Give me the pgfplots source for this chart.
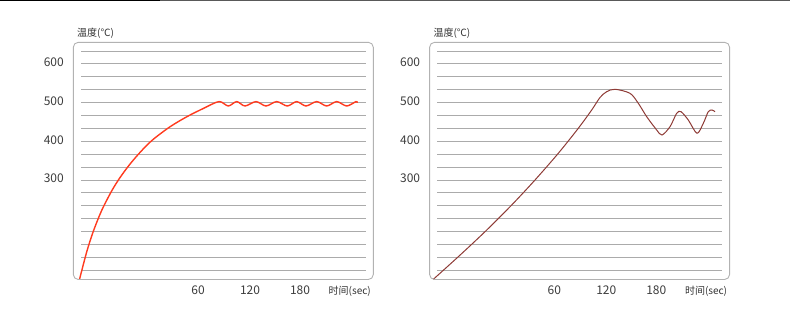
\documentclass[border=0pt]{standalone}
\usepackage{fontspec}
\setmainfont{Noto Sans CJK SC}
\usepackage{pgfplots}
\pgfplotsset{compat=1.18}
\definecolor{gridgray}{HTML}{ABABAB}
\definecolor{boxgray}{HTML}{B2B2B2}
\definecolor{redline}{HTML}{FF3B1F}
\definecolor{brownline}{HTML}{8E3B36}
\definecolor{txt}{HTML}{3C3C3C}
\definecolor{txtb}{HTML}{333333}
\pgfplotsset{panel/.style={
  scale only axis, width=285pt, height=237.2pt,
  anchor=south west,
  xmin=0, xmax=285, ymin=42.9, ymax=655.8,
  clip=false,
  axis line style={draw=none},
  major tick length=0pt, minor tick length=0pt,
  xtick={117,169,219}, xticklabels={60,120,180},
  ytick={300,400,500,600},
  minor ytick={66.667,100,133.333,166.667,200,233.333,266.667,333.333,366.667,433.333,466.667,533.333,566.667,633.333},
  ymajorgrids, yminorgrids,
  major grid style={gridgray, line width=0.9pt},
  minor grid style={gridgray, line width=0.9pt},
  /pgf/number format/assume math mode=true,
  yticklabel style={font=\fontsize{12}{14}\selectfont, text=txt, anchor=east, inner sep=0pt, xshift=-17pt, yshift=1.5pt},
  xticklabel style={font=\fontsize{12}{14}\selectfont, text=txt, anchor=center, inner sep=0pt, yshift=-10.5pt},
  after end axis/.code={
    \draw[boxgray, line width=0.9pt, rounded corners=5pt] ([xshift=-7.7pt]rel axis cs:0,0) rectangle ([xshift=7.3pt]rel axis cs:1,1);
    \node[anchor=west, font=\fontsize{10}{12}\selectfont, text=txtb, inner sep=0pt] at ([xshift=-4pt, yshift=9.3pt]rel axis cs:0,1) {温度(℃)};
    \node[anchor=east, font=\fontsize{10}{12}\selectfont, text=txtb, inner sep=0pt] at ([xshift=5pt, yshift=-11.5pt]rel axis cs:1,0) {时间(sec)};
  },
}}
\begin{document}
\begin{tikzpicture}[x=1pt,y=1pt]
\path[use as bounding box] (0,0) rectangle (790,316);
\draw[black, line width=1.5pt] (0,315.25) -- (160,315.25);
\draw[black!65, line width=1.3pt] (160,315.35) -- (790,315.35);

\begin{axis}[panel, at={(81pt,36.5pt)}]
\addplot[redline, line width=1.4pt, smooth] coordinates {
(-1.5,43) (5.7,114.2) (12.3,167.2) (20.7,221.4) (30.7,271.8) (39,306.2)
(49,341.1) (60.7,376) (72.3,405.2) (89,437.5) (105.7,463.3) (122.3,484.8)
(138,502.6) (147.3,491.2) (155.7,502.6) (164,491.2) (175,502.6) (185,491.2)
(195.7,502.6) (206.3,491.2) (215.7,502.6) (225,491.2) (235.7,502.6) (245.7,491.2)
(255.7,502.6) (265.7,491.2) (275,502.6) (276.3,499.5)
};
\end{axis}

\begin{axis}[panel, at={(437.3pt,36.5pt)}]
\addplot[brownline, line width=1pt, smooth] coordinates {
(-4,43.4) (21,101.8) (47.7,166.4) (74.4,235.4) (97.7,300) (121,369)
(141,433.6) (154.4,480.9) (162.7,513.2) (169.4,528.2) (177.7,534.4)
(192.7,524) (201,498.2) (209.4,463.6) (219.4,429.2) (224.7,416.3)
(232.7,437.7) (239.4,472.4) (243.7,476.5) (251,455) (259.7,420.7)
(266,446.5) (271,476.5) (274.7,480.9) (277.7,476.5)
};
\end{axis}
\end{tikzpicture}
\end{document}
